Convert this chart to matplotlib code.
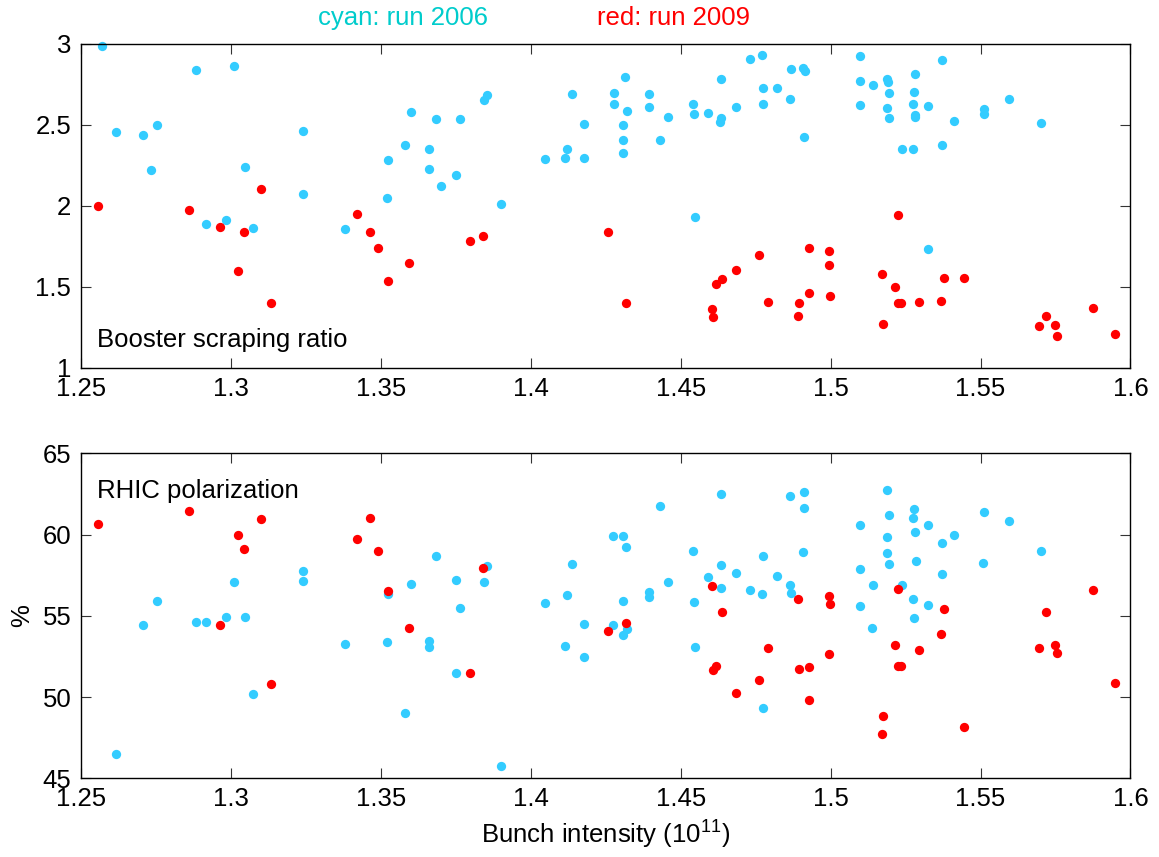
import matplotlib
matplotlib.use("Agg")
import matplotlib.pyplot as plt

plt.rcParams['font.family'] = ['Liberation Sans', 'DejaVu Sans']
plt.rcParams['mathtext.fontset'] = 'custom'
plt.rcParams['mathtext.rm'] = 'Liberation Sans'

# ---- Booster scraping ratio, run 2006 (cyan)
x_scrape_2006 = [1.2571, 1.2885, 1.3010, 1.2616, 1.2706, 1.2752, 1.3240, 1.2732, 1.3048, 1.3240,
                 1.2918, 1.2982, 1.3073, 1.3380,
                 1.3599, 1.3683, 1.3763, 1.3844, 1.3855, 1.3579, 1.3659, 1.3525, 1.3659, 1.3750,
                 1.3702, 1.3520, 1.3902, 1.4139, 1.4276, 1.4276, 1.4176, 1.4122, 1.4046, 1.4114, 1.4176,
                 1.4314, 1.4307, 1.4307, 1.4307, 1.4320, 1.4395, 1.4395, 1.4458, 1.4431, 1.4540,
                 1.4544, 1.4590, 1.4636, 1.4636, 1.4632, 1.4685, 1.4730, 1.4771, 1.4775, 1.4820,
                 1.4773, 1.4864, 1.4867, 1.4909, 1.4914, 1.4912, 1.4547, 1.5098, 1.5098, 1.5141, 1.5098,
                 1.5188, 1.5190, 1.5193, 1.5189, 1.5194, 1.5283, 1.5279, 1.5276, 1.5281, 1.5283,
                 1.5326, 1.5373, 1.5413, 1.5238, 1.5276, 1.5373, 1.5510, 1.5513, 1.5595, 1.5700, 1.5326]
y_scrape_2006 = [2.985, 2.837, 2.861, 2.455, 2.436, 2.496, 2.463, 2.218, 2.239, 2.070,
                 1.886, 1.914, 1.865, 1.857,
                 2.578, 2.537, 2.535, 2.650, 2.685, 2.374, 2.352, 2.284, 2.225, 2.188,
                 2.122, 2.050, 2.011, 2.687, 2.695, 2.629, 2.504, 2.352, 2.288, 2.294, 2.292,
                 2.792, 2.500, 2.403, 2.327, 2.586, 2.689, 2.607, 2.545, 2.405, 2.625,
                 2.567, 2.574, 2.779, 2.539, 2.514, 2.607, 2.903, 2.929, 2.724, 2.724,
                 2.629, 2.656, 2.845, 2.851, 2.831, 2.426, 1.931, 2.925, 2.771, 2.746, 2.621,
                 2.780, 2.765, 2.697, 2.602, 2.539, 2.812, 2.701, 2.625, 2.559, 2.549,
                 2.613, 2.898, 2.520, 2.352, 2.352, 2.372, 2.594, 2.567, 2.658, 2.508, 1.735]

# ---- Booster scraping ratio, run 2009 (red)
x_scrape_2009 = [1.2558, 1.2861, 1.2962, 1.3042, 1.3101, 1.3022, 1.3135, 1.3421, 1.3464, 1.3492,
                 1.3593, 1.3524, 1.3797, 1.3839, 1.4256, 1.4318, 1.4604, 1.4609, 1.4618, 1.4637,
                 1.4683, 1.4762, 1.4790, 1.4891, 1.4896, 1.4929, 1.4929, 1.4994, 1.4994, 1.4999,
                 1.5171, 1.5174, 1.5225, 1.5215, 1.5226, 1.5235, 1.5296, 1.5369, 1.5379, 1.5445,
                 1.5695, 1.5717, 1.5749, 1.5754, 1.5874, 1.5950]
y_scrape_2009 = [1.997, 1.974, 1.869, 1.840, 2.103, 1.596, 1.401, 1.947, 1.840, 1.742,
                 1.649, 1.534, 1.783, 1.814, 1.838, 1.401, 1.364, 1.313, 1.518, 1.550,
                 1.604, 1.698, 1.407, 1.322, 1.399, 1.738, 1.464, 1.723, 1.633, 1.446,
                 1.579, 1.271, 1.943, 1.499, 1.399, 1.399, 1.407, 1.415, 1.553, 1.553,
                 1.257, 1.322, 1.267, 1.197, 1.372, 1.211]

# ---- RHIC polarization, run 2006 (cyan)
x_pol_2006 = [1.3010, 1.3240, 1.3240, 1.2752, 1.2706, 1.2885, 1.2918, 1.2982, 1.3048, 1.3380,
              1.3073, 1.2616,
              1.3524, 1.3599, 1.3683, 1.3750, 1.3763, 1.3844, 1.3855, 1.3520, 1.3659, 1.3659,
              1.3750, 1.3579, 1.3902, 1.4046, 1.4122, 1.4137, 1.4176, 1.4114, 1.4176, 1.4274, 1.4274,
              1.4309, 1.4316, 1.4309, 1.4308, 1.4320, 1.4431, 1.4395, 1.4395, 1.4458, 1.4540,
              1.4544, 1.4547, 1.4636, 1.4590, 1.4633, 1.4636, 1.4685, 1.4730, 1.4771, 1.4775,
              1.4820, 1.4773, 1.4864, 1.4912, 1.4912, 1.4909, 1.4864, 1.4867, 1.5098, 1.5098,
              1.5098, 1.5141, 1.5139,
              1.5187, 1.5194, 1.5189, 1.5189, 1.5194, 1.5238, 1.5279, 1.5276, 1.5283, 1.5326,
              1.5284, 1.5276, 1.5326, 1.5279, 1.5373, 1.5413, 1.5373, 1.5511, 1.5507, 1.5595, 1.5700]
y_pol_2006 = [57.06, 57.74, 57.16, 55.89, 54.42, 54.62, 54.62, 54.93, 54.95, 53.25,
              50.21, 46.48,
              56.32, 56.98, 58.70, 57.22, 55.50, 57.08, 58.05, 53.39, 53.45, 53.08,
              51.48, 49.02, 45.78, 55.77, 56.28, 58.17, 54.51, 53.14, 52.46, 59.89, 54.41,
              59.89, 59.23, 55.91, 53.82, 54.19, 61.74, 56.45, 56.16, 57.10, 58.97,
              55.85, 53.10, 62.51, 57.39, 58.11, 56.69, 57.63, 56.59, 56.36, 58.66,
              57.45, 49.33, 62.37, 62.62, 61.62, 58.94, 56.90, 56.42, 60.61, 57.86,
              55.58, 56.87, 54.23,
              62.76, 61.22, 59.83, 58.85, 58.17, 56.90, 61.57, 61.04, 60.14, 60.57,
              58.35, 56.05, 55.66, 54.88, 59.48, 59.99, 57.57, 61.39, 58.27, 60.83, 59.01]

# ---- RHIC polarization, run 2009 (red)
x_pol_2009 = [1.2558, 1.2861, 1.3023, 1.3042, 1.3101, 1.2962, 1.3135, 1.3421, 1.3464, 1.3492,
              1.3524, 1.3593, 1.3797, 1.3839, 1.4256, 1.4318, 1.4604, 1.4637, 1.4618, 1.4609,
              1.4683, 1.4762, 1.4790, 1.4891, 1.4896, 1.4929, 1.4929, 1.4994, 1.4999, 1.4994,
              1.5174, 1.5171, 1.5225, 1.5379, 1.5369, 1.5215, 1.5296, 1.5226, 1.5235, 1.5445,
              1.5874, 1.5717, 1.5695, 1.5749, 1.5754, 1.5950]
y_pol_2009 = [60.67, 61.43, 59.99, 59.11, 60.98, 54.45, 50.78, 59.71, 61.00, 58.99,
              56.51, 54.23, 51.46, 57.94, 54.05, 54.54, 56.83, 55.21, 51.89, 51.65,
              50.27, 51.05, 53.00, 56.05, 51.75, 51.83, 49.82, 56.24, 55.73, 52.63,
              48.83, 47.75, 56.67, 55.40, 53.86, 53.22, 52.89, 51.91, 51.91, 48.14,
              56.61, 55.21, 53.04, 53.22, 52.73, 50.85]

x_ticks = [1.25, 1.3, 1.35, 1.4, 1.45, 1.5, 1.55, 1.6]
x_tick_labels = ["1.25", "1.3", "1.35", "1.4", "1.45", "1.5", "1.55", "1.6"]
y_ticks_scrape = [1, 1.5, 2, 2.5, 3]
y_tick_labels_scrape = ["1", "1.5", "2", "2.5", "3"]
y_ticks_pol = [45, 50, 55, 60, 65]
y_tick_labels_pol = ["45", "50", "55", "60", "65"]

CYAN = "#33CCFF"
RED = "#FF0000"
FS = 18.5

fig = plt.figure(figsize=(11.59, 8.57), dpi=100)
ax1 = fig.add_axes([0.0699, 0.5706, 0.9055, 0.3786])
ax2 = fig.add_axes([0.0699, 0.0918, 0.9055, 0.3793])

def style(ax, yt, ytl, ylim):
    ax.set_xlim(1.25, 1.6)
    ax.set_ylim(*ylim)
    ax.set_xticks(x_ticks)
    ax.set_xticklabels(x_tick_labels)
    ax.set_yticks(yt)
    ax.set_yticklabels(ytl)
    ax.tick_params(direction='in', length=7, width=0.8, top=True, right=True,
                   labelsize=FS, color='#333333')
    ax.tick_params(axis='x', pad=6.5)
    ax.tick_params(axis='y', pad=7)
    for s in ax.spines.values():
        s.set_linewidth(1.0)

ms = 6.7
ax1.plot(x_scrape_2006, y_scrape_2006, 'o', color=CYAN, markersize=ms, markeredgewidth=0, clip_on=False)
ax1.plot(x_scrape_2009, y_scrape_2009, 'o', color=RED, markersize=ms, markeredgewidth=0, clip_on=False)
style(ax1, y_ticks_scrape, y_tick_labels_scrape, (1, 3))
ax1.text(0.015, 0.085, "Booster scraping ratio", transform=ax1.transAxes,
         fontsize=FS, va='center', ha='left')

ax2.plot(x_pol_2006, y_pol_2006, 'o', color=CYAN, markersize=ms, markeredgewidth=0, clip_on=False)
ax2.plot(x_pol_2009, y_pol_2009, 'o', color=RED, markersize=ms, markeredgewidth=0, clip_on=False)
style(ax2, y_ticks_pol, y_tick_labels_pol, (45, 65))
ax2.text(0.015, 0.885, "RHIC polarization", transform=ax2.transAxes,
         fontsize=FS, va='center', ha='left')
ax2.set_ylabel("%", fontsize=FS, labelpad=6)
ax2.set_xlabel("Bunch intensity (10$^{11}$)", fontsize=FS, labelpad=4)

fig.text(318 / 1159, 1 - 18 / 857, "cyan: run 2006", color="#00CCCC", fontsize=FS,
         ha='left', va='center')
fig.text(597 / 1159, 1 - 18 / 857, "red: run 2009", color=RED, fontsize=FS,
         ha='left', va='center')

fig.savefig("out.png", dpi=100)
